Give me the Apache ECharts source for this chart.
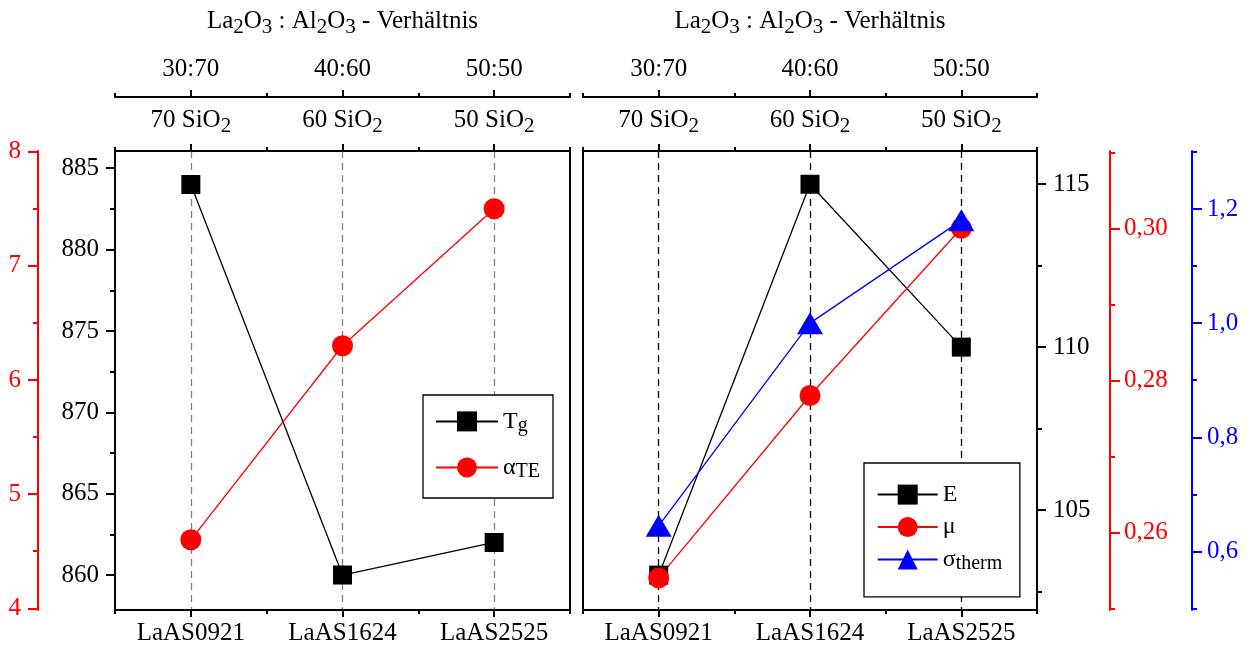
<!DOCTYPE html>
<html><head><meta charset="utf-8">
<script src="https://cdn.jsdelivr.net/npm/echarts@6/dist/echarts.min.js"></script>
<style>html,body{margin:0;padding:0;background:#fff}#c{width:1250px;height:647px}</style>
</head><body><div id="c"></div>
<script>
// ---- data ----
const categories = ['LaAS0921', 'LaAS1624', 'LaAS2525'];
const ratioLabels = ['30:70', '40:60', '50:50'];
const silicaLabels = ['70 SiO_{2}', '60 SiO_{2}', '50 SiO_{2}'];
const topTitle = 'La_{2}O_{3} : Al_{2}O_{3} - Verhältnis';

const Tg = [884, 860, 862];
const alphaTE = [4.6, 6.3, 7.5];
const E = [103, 115, 110];
const mu = [0.254, 0.278, 0.300];
const sigma = [0.645, 1.0, 1.18];

const TgMajor = [860, 865, 870, 875, 880, 885];
const TgMinor = [862.5, 867.5, 872.5, 877.5, 882.5];
const alphaMajor = [4, 5, 6, 7, 8];
const alphaMinor = [4.5, 5.5, 6.5, 7.5];
const EMajor = [105, 110, 115];
const EMinor = [102.5, 107.5, 112.5];
const muMajor = [0.26, 0.28, 0.30];
const muMinor = [0.25, 0.27, 0.29, 0.31];
const sigmaMajor = [0.6, 0.8, 1.0, 1.2];
const sigmaMinor = [0.5, 0.7, 0.9, 1.1, 1.3];

// ---- styling helpers ----
const F = 'Liberation Serif';
const RED = '#ff0000', BLUE = '#0000ff', BLACK = '#000000';
function rich(s) {
  return ('{m|' + s.replace(/_\{([^}]*)\}/g, '}{s|$1}{m|') + '}').replace(/\{m\|\}/g, '');
}
const axisRich = {
  m: { fontFamily: F, fontSize: 25, lineHeight: 34, color: BLACK },
  s: { fontFamily: F, fontSize: 21, lineHeight: 9, verticalAlign: 'bottom', color: BLACK }
};
const legendRich = {
  m: { fontFamily: F, fontSize: 24, lineHeight: 28, color: BLACK },
  s: { fontFamily: F, fontSize: 20, lineHeight: 5, verticalAlign: 'bottom', color: BLACK }
};

function xAxesFor(grid, dashColor) {
  const line = { show: true, onZero: false, lineStyle: { color: BLACK, width: 2 } };
  const base = { type: 'category', gridIndex: grid, boundaryGap: true, splitLine: { show: false } };
  const majTick = { show: true, alignWithLabel: true, length: 7, inside: false, lineStyle: { color: BLACK, width: 2 } };
  const minTick = { show: true, alignWithLabel: false, length: 4, inside: false, lineStyle: { color: BLACK, width: 2 } };
  const lab = (margin) => ({ show: true, interval: 0, margin: margin, formatter: v => rich(v), rich: axisRich });
  return [
    Object.assign({}, base, { data: categories, position: 'bottom', axisLine: line, axisTick: majTick, axisLabel: lab(6),
      splitLine: { show: true, alignWithLabel: true, interval: 0, lineStyle: { color: dashColor, width: 1.3, type: [7, 5] } } }),
    Object.assign({}, base, { data: categories, position: 'bottom', axisLine: { show: false }, axisTick: minTick, axisLabel: { show: false } }),
    Object.assign({}, base, { data: silicaLabels, position: 'top', axisLine: line, axisTick: majTick, axisLabel: lab(14) }),
    Object.assign({}, base, { data: silicaLabels, position: 'top', axisLine: { show: false }, axisTick: minTick, axisLabel: { show: false } }),
    Object.assign({}, base, { data: ratioLabels, position: 'top', offset: 54, axisLine: line, axisTick: majTick, axisLabel: lab(11),
      name: rich(topTitle), nameLocation: 'middle', nameGap: 59, nameTextStyle: { rich: axisRich } }),
    Object.assign({}, base, { data: ratioLabels, position: 'top', offset: 54, axisLine: { show: false }, axisTick: minTick, axisLabel: { show: false } })
  ];
}

function yAxesFor(grid, pos, offset, min, max, major, minor, color, fmt, margin, majLen, minLen) {
  const common = { type: 'value', gridIndex: grid, position: pos, offset: offset, min: min, max: max, splitLine: { show: false } };
  return [
    Object.assign({}, common, {
      axisLine: { show: true, onZero: false, lineStyle: { color: color, width: 2 } },
      axisTick: { show: true, inside: false, customValues: major, length: majLen, lineStyle: { color: color, width: 2 } },
      axisLabel: { show: true, customValues: major, formatter: fmt, margin: margin, color: color, fontFamily: F, fontSize: 25 }
    }),
    Object.assign({}, common, {
      axisLine: { show: false, onZero: false },
      axisTick: { show: true, inside: false, customValues: minor, length: minLen, lineStyle: { color: color, width: 2 } },
      axisLabel: { show: false }
    })
  ];
}

const comma = d => v => v.toFixed(d).replace('.', ',');

const xAxis = [].concat(xAxesFor(0, '#808080'), xAxesFor(1, BLACK));
const yAxis = [].concat(
  yAxesFor(0, 'left', 0, 857.85, 886.06, TgMajor, TgMinor, BLACK, v => String(v), 16, 9, 5),      // 0,1
  yAxesFor(0, 'left', 77, 3.985, 8.006, alphaMajor, alphaMinor, RED, v => String(v), 17, 10, 5),   // 2,3
  yAxesFor(1, 'right', 0, 101.93, 116.02, EMajor, EMinor, BLACK, v => String(v), 16, 9, 5),        // 4,5
  yAxesFor(1, 'right', 73, 0.24978, 0.31017, muMajor, muMinor, RED, comma(2), 14, 10, 5),          // 6,7
  yAxesFor(1, 'right', 155, 0.4975, 1.3015, sigmaMajor, sigmaMinor, BLUE, comma(1), 15, 10, 5)     // 8,9
);

function lineSeries(name, data, xi, yi, symbol, size, color) {
  return { name: name, type: 'line', xAxisIndex: xi, yAxisIndex: yi, data: data, symbol: symbol, symbolSize: size,
    showSymbol: true, clip: false, itemStyle: { color: color, borderWidth: 0 }, lineStyle: { color: color, width: 1.3 },
    emphasis: { disabled: true } };
}

const legendBase = { orient: 'vertical', selectedMode: false, borderColor: BLACK, borderWidth: 1.3, backgroundColor: '#fff',
  itemHeight: 25, formatter: n => rich(n), textStyle: { color: BLACK, fontFamily: F, fontSize: 24, rich: legendRich } };

const option = {
  animation: false,
  backgroundColor: '#fff',
  grid: [
    { left: 115, width: 455, top: 151, bottom: 37, show: true, borderColor: BLACK, borderWidth: 2, backgroundColor: 'transparent', outerBoundsMode: 'none', containLabel: false },
    { left: 583, width: 454, top: 151, bottom: 37, show: true, borderColor: BLACK, borderWidth: 2, backgroundColor: 'transparent', outerBoundsMode: 'none', containLabel: false }
  ],
  xAxis: xAxis,
  yAxis: yAxis,
  legend: [
    Object.assign({}, legendBase, { data: ['T_{g}', 'α_{TE}'], left: 423, top: 395, itemWidth: 62, itemGap: 20, padding: [14.4, 13, 16.6, 12] }),
    Object.assign({}, legendBase, { data: ['E', 'μ', 'σ_{therm}'], left: 864, top: 463, itemWidth: 60, itemGap: 8.5, padding: [19.6, 17.6, 23.3, 12.7] })
  ],
  series: [
    lineSeries('T_{g}', Tg, 0, 0, 'rect', 19, BLACK),
    lineSeries('α_{TE}', alphaTE, 0, 2, 'circle', 21, RED),
    lineSeries('E', E, 6, 4, 'rect', 19, BLACK),
    lineSeries('μ', mu, 6, 6, 'circle', 21, RED),
    lineSeries('σ_{therm}', sigma, 6, 8, 'triangle', [26, 22], BLUE)
  ]
};

const chart = echarts.init(document.getElementById('c'), null, { renderer: 'canvas' });
chart.setOption(option);
</script>
</body></html>
